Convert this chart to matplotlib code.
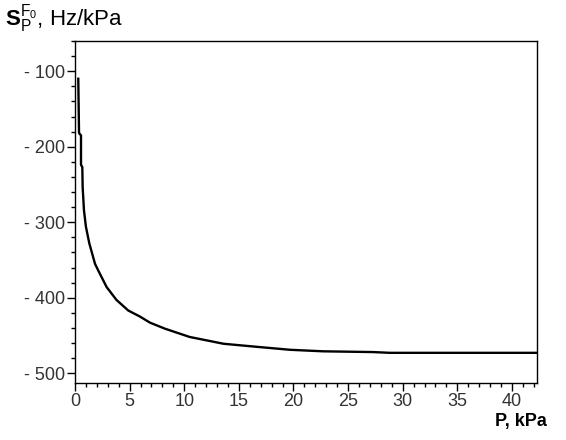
import numpy as np
import matplotlib
matplotlib.use("Agg")
from matplotlib import pyplot as plt
from matplotlib.ticker import MultipleLocator, FuncFormatter

plt.rcParams['font.family'] = ['Liberation Sans', 'DejaVu Sans']
plt.rcParams['mathtext.fontset'] = 'custom'
plt.rcParams['mathtext.rm'] = 'Liberation Sans'
plt.rcParams['mathtext.bf'] = 'Liberation Sans:bold'

# sensitivity curve
p_kpa = [0.3, 0.37, 0.55, 0.55, 0.67, 0.7, 0.82, 1.0, 1.31, 1.83, 2.13, 2.9, 3.8,
         4.88, 5.95, 6.86, 8.23, 10.5, 13.6, 16.6, 19.7, 22.7, 27.3, 28.8, 42.3]
s_hz = [-110, -182, -185, -224, -227, -253, -284, -306, -328, -355, -364, -386, -403,
        -417, -425, -433, -441, -452, -461, -465, -469, -471, -472, -473, -473]

fig = plt.figure(figsize=(5.66, 4.4), dpi=100)
ax = fig.add_axes([0.1325, 0.1295, 0.8163, 0.7773])
ax.plot(p_kpa, s_hz, color='black', lw=1.7)

ax.set_xlim(0, 42.3)
ax.set_ylim(-513, -60)
ax.xaxis.set_major_locator(MultipleLocator(5))
ax.xaxis.set_minor_locator(MultipleLocator(1))
ax.yaxis.set_major_locator(MultipleLocator(100))
ax.yaxis.set_minor_locator(MultipleLocator(20))
ax.yaxis.set_major_formatter(FuncFormatter(lambda v, pos: "- %d" % abs(v) if v < 0 else "%d" % v))
ax.tick_params(which='major', direction='out', length=6, width=1, labelsize=13, pad=1,
               labelcolor='#333333')
ax.tick_params(which='minor', direction='out', length=3, width=1)
for s in ax.spines.values():
    s.set_linewidth(1)

fig.text(0.009, 0.955, r"$\mathbf{S}_{\mathrm{P}}^{\mathrm{F_0}}$, Hz/kPa", fontsize=16,
         ha='left', va='center')
fig.text(0.967, 0.043, "P, kPa", fontsize=13, fontweight='bold', ha='right', va='center')

fig.savefig("out.png", dpi=100)
